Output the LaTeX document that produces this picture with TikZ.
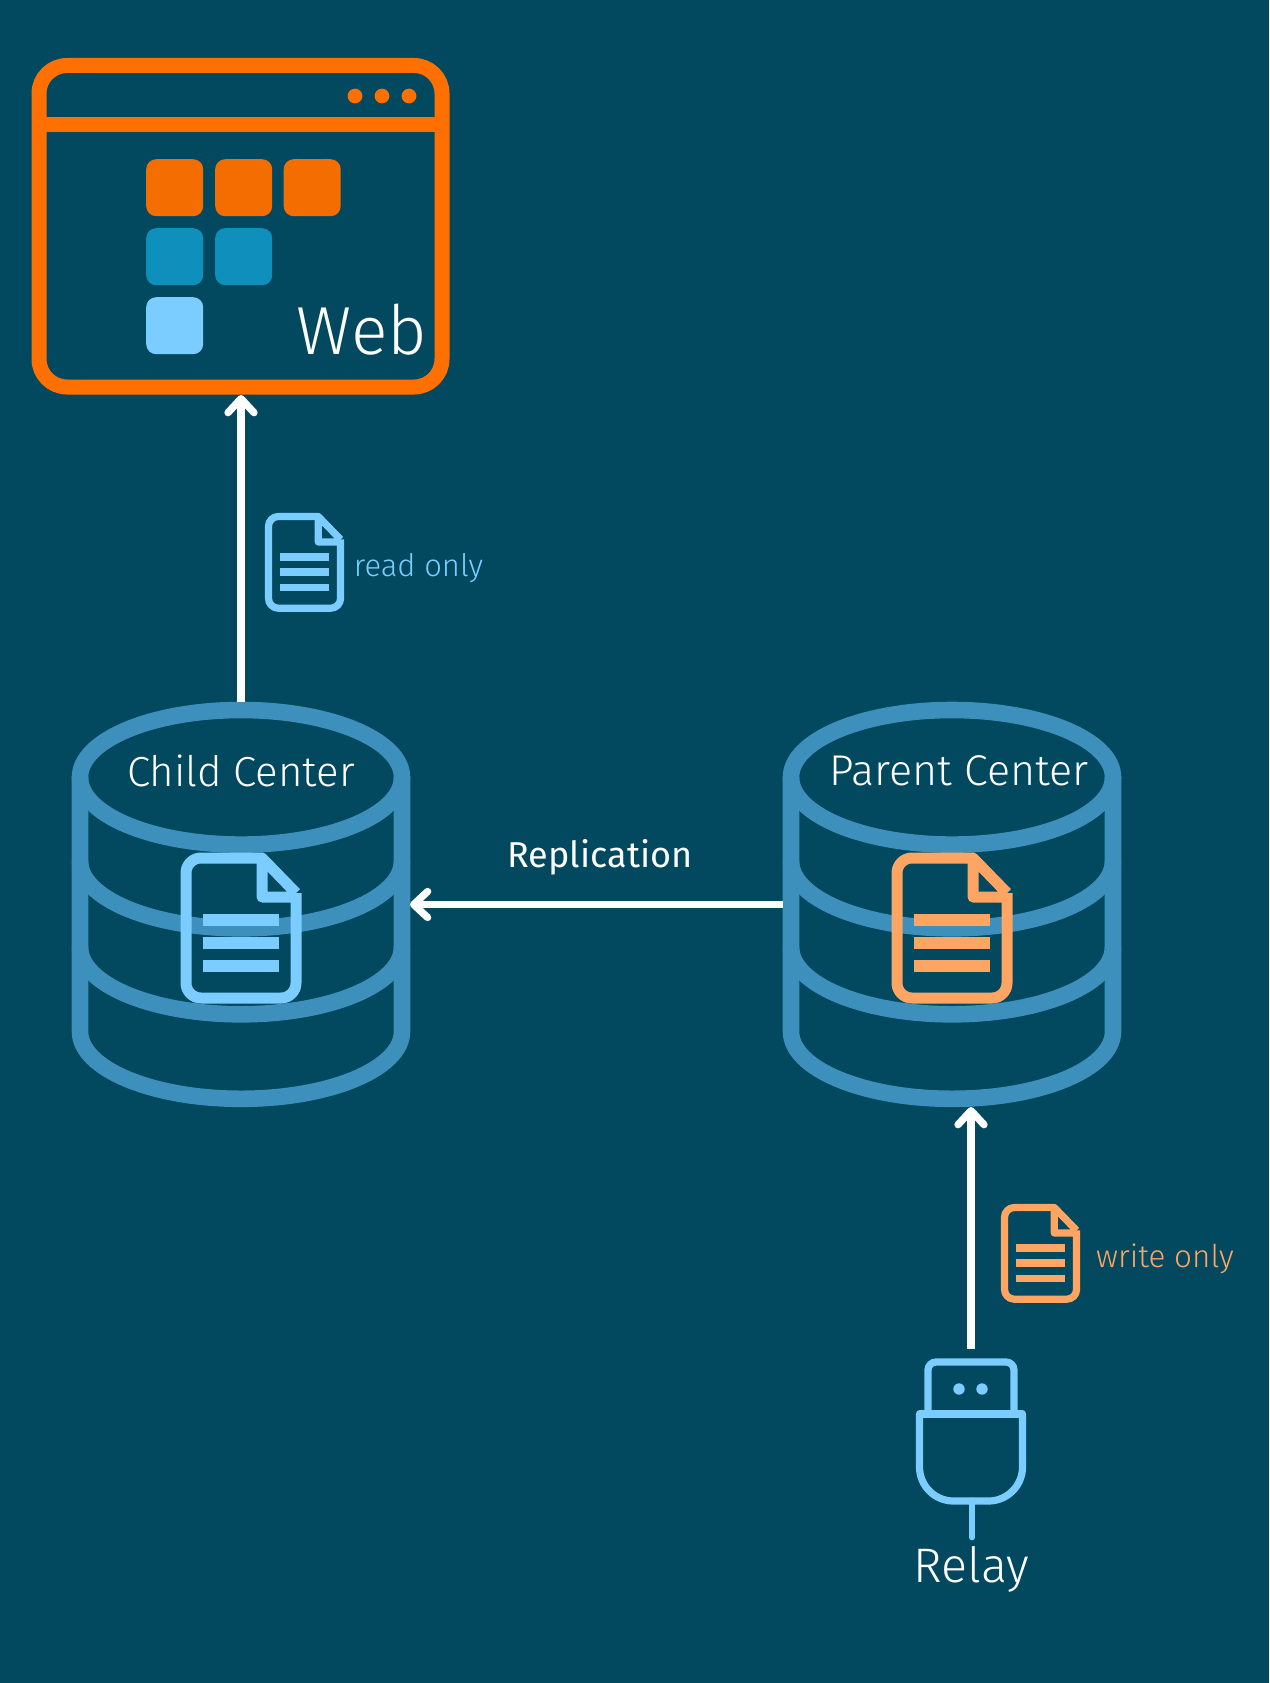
\documentclass[tikz,border=0pt]{standalone}
\usepackage{fontspec}
\setmainfont{Fira Sans Light}
\newfontfamily\regfont{Fira Sans}
\usetikzlibrary{arrows.meta}
\definecolor{bgc}{HTML}{02485E}
\definecolor{orangeA}{HTML}{FF7000}
\definecolor{orangeB}{HTML}{F46D00}
\definecolor{tealA}{HTML}{0F90BC}
\definecolor{lightA}{HTML}{7ACDFE}
\definecolor{cyl}{HTML}{3D8FBC}
\definecolor{peach}{HTML}{FFA563}
\tikzset{
  labeltext/.style={inner sep=0pt,anchor=base,text=white},
  flow/.style={draw=white,line width=7.3pt,-{Straight Barb[length=14pt,width=26pt,round]}},
  tile/.style={rounded corners=10pt,inner sep=0pt,minimum size=57pt,anchor=north west,draw=none},
  cylline/.style={draw=cyl,line width=16.6pt},
}
\newcommand{\DocIcon}[4]{% x y scale colour
  \begin{scope}[shift={(#1,#2)},x=#3pt,y=-#3pt]
    \pgfmathsetmacro\dlw{11*#3}\pgfmathsetmacro\drc{15*#3}\pgfmathsetmacro\dbar{11.3*#3}
    \draw[#4,line width=\dlw pt,line join=round,rounded corners=\drc pt]
      (76,0) -- (0,0) -- (0,140) -- (110,140) -- (110,35);
    \draw[#4,line width=\dlw pt,line join=round] (110,35) -- (76,0) -- (76,39) -- (109,39);
    \draw[#4,line width=\dbar pt] (17,62) -- (93,62) (17,85) -- (93,85) (17,108) -- (93,108);
  \end{scope}}
\newcommand{\Cylinder}[1]{% x shift
  \begin{scope}[xshift=#1pt]
    \draw[cylline] (241,777.3) ellipse [x radius=161pt,y radius=67.3pt];
    \draw[cylline] (80,777) -- (80,1031.5) arc[start angle=180,end angle=360,x radius=161pt,y radius=67.3pt] -- (402,777);
    \draw[cylline] (80,861) arc[start angle=180,end angle=360,x radius=161pt,y radius=67.3pt];
    \draw[cylline] (80,947) arc[start angle=180,end angle=360,x radius=161pt,y radius=67.3pt];
  \end{scope}}
\begin{document}
\begin{tikzpicture}[x=1pt,y=-1pt]
\fill[bgc] (0,0) rectangle (1269,1683);
\useasboundingbox (0,0) rectangle (1269,1683);
% browser window
\draw[orangeA,line width=15pt,rounded corners=28pt] (39,65.5) rectangle (442,387);
\draw[orangeA,line width=15pt] (32,124.5) -- (449,124.5);
\fill[orangeA] (355,96) circle (7.4pt) (382,96) circle (7.4pt) (409,96) circle (7.4pt);
\node[tile,fill=orangeB] (t1) at (146,159) {};
\node[tile,fill=orangeB] (t2) at (215,159) {};
\node[tile,fill=orangeB] (t3) at (283.5,159) {};
\node[tile,fill=tealA] (t4) at (146,228) {};
\node[tile,fill=tealA] (t5) at (215,228) {};
\node[tile,fill=lightA] (t6) at (146,297) {};
\node[labeltext,font=\fontsize{68}{68}\selectfont] (web) at (362,354) {Web};
% cylinders
\Cylinder{0}
\Cylinder{711}
\DocIcon{186}{858}{1}{lightA}
\DocIcon{897}{858}{1}{peach}
\node[labeltext,font=\fontsize{42}{42}\selectfont] (child) at (241,786) {Child Center};
\node[labeltext,font=\fontsize{43}{43}\selectfont] (parent) at (959,785) {Parent Center};
% small docs
\DocIcon{268.5}{516.5}{0.655}{lightA}
\DocIcon{1004.5}{1207.5}{0.655}{peach}
\node[labeltext,text=lightA,font=\fontsize{31}{31}\selectfont] (ro) at (418.5,576) {read only};
\node[labeltext,text=peach,font=\fontsize{31.4}{31.4}\selectfont] (wo) at (1165,1267) {write only};
\node[labeltext,font=\regfont\fontsize{36}{36}\selectfont] (rep) at (600,867) {Replication};
% plug
\draw[lightA,line width=7.2pt,rounded corners=8pt] (928,1414) -- (928,1362) -- (1014,1362) -- (1014,1414);
\draw[lightA,line width=7.2pt,line cap=round] (919.5,1414) -- (1022.5,1414);
\draw[lightA,line width=7.2pt,rounded corners=34pt] (919.5,1414) -- (919.5,1501) -- (1022.5,1501) -- (1022.5,1414);
\draw[lightA,line width=6.8pt,line cap=round] (972,1501) -- (972,1537);
\fill[lightA] (959,1389) circle (5.7pt) (982,1389) circle (5.7pt);
\node[labeltext,font=\fontsize{48.5}{48.5}\selectfont] (relay) at (971.5,1582) {Relay};
% connector anchors
\coordinate (childtop) at (241,702);
\coordinate (webbottom) at (241,395);
\coordinate (parentleft) at (783,904.5);
\coordinate (childright) at (410,904.5);
\coordinate (plugtop) at (971,1349);
\coordinate (parentbottom) at (971,1107);
\draw[flow] (childtop) -- (webbottom);
\draw[flow] (parentleft) -- (childright);
\draw[flow] (plugtop) -- (parentbottom);
\end{tikzpicture}
\end{document}
